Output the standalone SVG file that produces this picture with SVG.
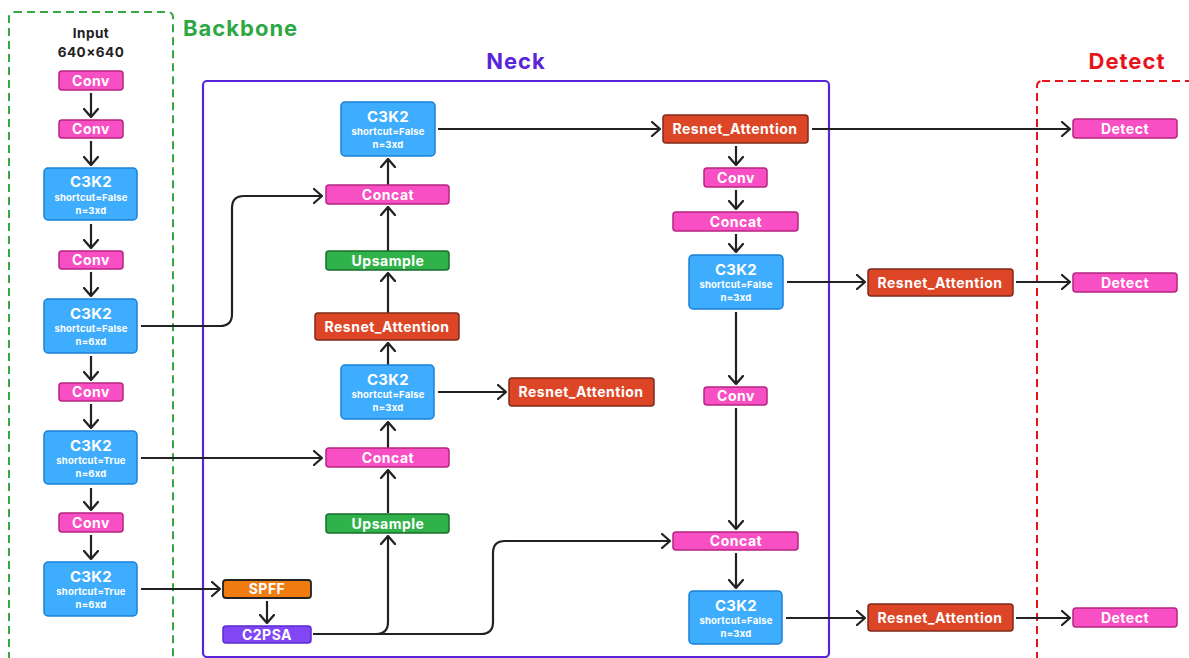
<svg xmlns="http://www.w3.org/2000/svg" width="1189" height="658" viewBox="0 0 1189 658">
<defs>
<marker id="arr" viewBox="0 0 10 16" markerWidth="10" markerHeight="16" refX="9" refY="8" orient="auto" markerUnits="userSpaceOnUse">
<path d="M1,1 L9,8 L1,15" fill="none" stroke="#222" stroke-width="2.3" stroke-linecap="round" stroke-linejoin="round"/>
</marker>
<style>
text{font-family:Inter,"Liberation Sans",Arial,sans-serif;font-weight:700;text-anchor:middle}
.lbl{fill:#fff;font-size:14px;letter-spacing:0.5px}
.t{fill:#fff;font-size:15px;letter-spacing:0.3px}
.s{fill:#fff;font-size:9.5px;letter-spacing:0.2px}
.pink{fill:#f94fc4;stroke:#b5247f;stroke-width:1.5}
.blue{fill:#3eadfd;stroke:#1a80d8;stroke-width:1.5}
.red{fill:#dc4627;stroke:#7d2b1b;stroke-width:1.5}
.green{fill:#2fb249;stroke:#186e2b;stroke-width:1.5}
.orange{fill:#f07c10;stroke:#222;stroke-width:1.8}
.purple{fill:#8147f5;stroke:#5b2bd0;stroke-width:1.5}
.c{fill:none;stroke:#222;stroke-width:2.2;marker-end:url(#arr)}
.title{font-size:22px;letter-spacing:1px}
.in{fill:#222;font-size:13.5px;letter-spacing:0.5px}
</style>
</defs>
<rect width="1189" height="658" fill="#fff"/>
<g id="frames">
<rect x="9" y="12" width="164" height="660" rx="5" fill="none" stroke="#35a844" stroke-width="2" stroke-dasharray="8 5"/>
<text x="183" y="36" class="title" fill="#2ea844" style="text-anchor:start">Backbone</text>
<rect x="203" y="81" width="626" height="576" rx="4" fill="none" stroke="#5a24d8" stroke-width="2.2"/>
<text x="516" y="69" class="title" fill="#5a24d8">Neck</text>
<rect x="1037" y="81" width="170" height="600" rx="5" fill="none" stroke="#e8141c" stroke-width="2" stroke-dasharray="8 5"/>
<text x="1127" y="69" class="title" fill="#e8141c">Detect</text>
<text x="91" y="38" class="in">Input</text>
<text x="91" y="57" class="in">640×640</text>
</g>
<g id="connectors">
<path class="c" d="M91,93 V117"/>
<path class="c" d="M91,141 V165"/>
<path class="c" d="M91,224 V248"/>
<path class="c" d="M91,272 V296"/>
<path class="c" d="M91,356 V380"/>
<path class="c" d="M91,404 V428"/>
<path class="c" d="M91,488 V510"/>
<path class="c" d="M91,535 V559"/>
<path class="c" d="M141,326 H220 Q232,326 232,314 V208 Q232,196 244,196 H322"/>
<path class="c" d="M141,458 H322"/>
<path class="c" d="M141,589 H220"/>
<path class="c" d="M267,601 V623"/>
<path class="c" d="M313,634 H376 Q388,634 388,622 V536"/>
<path class="c" d="M376,634 H481 Q493,634 493,622 V553 Q493,541 505,541 H670"/>
<path class="c" d="M388,513 V470"/>
<path class="c" d="M388,448 V422"/>
<path class="c" d="M438,392 H506"/>
<path class="c" d="M388,365 V343"/>
<path class="c" d="M388,313 V273"/>
<path class="c" d="M388,251 V207"/>
<path class="c" d="M388,185 V159"/>
<path class="c" d="M438,129 H660"/>
<path class="c" d="M812,129 H1070"/>
<path class="c" d="M736,146 V165"/>
<path class="c" d="M736,190 V209"/>
<path class="c" d="M736,234 V252"/>
<path class="c" d="M787,282 H865"/>
<path class="c" d="M1016,282 H1070"/>
<path class="c" d="M736,312 V384"/>
<path class="c" d="M736,408 V529"/>
<path class="c" d="M736,553 V588"/>
<path class="c" d="M786,618 H865"/>
<path class="c" d="M1016,618 H1070"/>
</g>
<g id="bb_conv1"><rect class="pink" x="59" y="71" width="64" height="19" rx="3"/><text class="lbl" x="91" y="85.5">Conv</text></g>
<g id="bb_conv2"><rect class="pink" x="59" y="120" width="64" height="18" rx="3"/><text class="lbl" x="91" y="134">Conv</text></g>
<g id="bb_c3k2_1"><rect class="blue" x="44" y="168" width="93" height="52" rx="4"/><text class="t" x="91" y="187">C3K2</text><text class="s" x="91" y="201">shortcut=False</text><text class="s" x="91" y="214">n=3xd</text></g>
<g id="bb_conv3"><rect class="pink" x="59" y="251" width="64" height="18" rx="3"/><text class="lbl" x="91" y="265">Conv</text></g>
<g id="bb_c3k2_2"><rect class="blue" x="44" y="299" width="93" height="54" rx="4"/><text class="t" x="91" y="319">C3K2</text><text class="s" x="91" y="332">shortcut=False</text><text class="s" x="91" y="345">n=6xd</text></g>
<g id="bb_conv4"><rect class="pink" x="59" y="383" width="64" height="18" rx="3"/><text class="lbl" x="91" y="397">Conv</text></g>
<g id="bb_c3k2_3"><rect class="blue" x="44" y="431" width="93" height="53" rx="4"/><text class="t" x="91" y="451">C3K2</text><text class="s" x="91" y="464">shortcut=True</text><text class="s" x="91" y="477">n=6xd</text></g>
<g id="bb_conv5"><rect class="pink" x="59" y="513" width="64" height="19" rx="3"/><text class="lbl" x="91" y="527.5">Conv</text></g>
<g id="bb_c3k2_4"><rect class="blue" x="44" y="562" width="93" height="54" rx="4"/><text class="t" x="91" y="582">C3K2</text><text class="s" x="91" y="595">shortcut=True</text><text class="s" x="91" y="608">n=6xd</text></g>
<g id="spff"><rect class="orange" x="223" y="580" width="88" height="18" rx="3"/><text class="lbl" x="267" y="594">SPFF</text></g>
<g id="c2psa"><rect class="purple" x="223" y="626" width="88" height="17" rx="3"/><text class="lbl" x="267" y="639.5">C2PSA</text></g>
<g id="nk_upsample2"><rect class="green" x="326" y="514" width="123" height="19" rx="3"/><text class="lbl" x="388" y="528.5">Upsample</text></g>
<g id="nk_concat2"><rect class="pink" x="326" y="448" width="123" height="19" rx="3"/><text class="lbl" x="388" y="462.5">Concat</text></g>
<g id="nk_c3k2_2"><rect class="blue" x="341" y="365" width="93" height="54" rx="4"/><text class="t" x="388" y="385">C3K2</text><text class="s" x="388" y="398">shortcut=False</text><text class="s" x="388" y="411">n=3xd</text></g>
<g id="nk_ra_mid"><rect class="red" x="509" y="378" width="145" height="28" rx="3"/><text class="lbl" x="581" y="397">Resnet_Attention</text></g>
<g id="nk_ra_center"><rect class="red" x="315" y="313" width="144" height="27" rx="3"/><text class="lbl" x="387" y="331.5">Resnet_Attention</text></g>
<g id="nk_upsample1"><rect class="green" x="326" y="251" width="123" height="19" rx="3"/><text class="lbl" x="388" y="265.5">Upsample</text></g>
<g id="nk_concat1"><rect class="pink" x="326" y="185" width="123" height="19" rx="3"/><text class="lbl" x="388" y="199.5">Concat</text></g>
<g id="nk_c3k2_1"><rect class="blue" x="341" y="102" width="94" height="54" rx="4"/><text class="t" x="388" y="122">C3K2</text><text class="s" x="388" y="135">shortcut=False</text><text class="s" x="388" y="148">n=3xd</text></g>
<g id="nk_ra_top"><rect class="red" x="663" y="115" width="145" height="28" rx="3"/><text class="lbl" x="735" y="134">Resnet_Attention</text></g>
<g id="nk_conv1"><rect class="pink" x="704" y="168" width="63" height="19" rx="3"/><text class="lbl" x="736" y="182.5">Conv</text></g>
<g id="nk_concat3"><rect class="pink" x="673" y="212" width="125" height="19" rx="3"/><text class="lbl" x="736" y="226.5">Concat</text></g>
<g id="nk_c3k2_3"><rect class="blue" x="689" y="255" width="94" height="54" rx="4"/><text class="t" x="736" y="275">C3K2</text><text class="s" x="736" y="288">shortcut=False</text><text class="s" x="736" y="301">n=3xd</text></g>
<g id="ra_mid"><rect class="red" x="868" y="269" width="145" height="27" rx="3"/><text class="lbl" x="940" y="287.5">Resnet_Attention</text></g>
<g id="nk_conv2"><rect class="pink" x="704" y="387" width="63" height="18" rx="3"/><text class="lbl" x="736" y="401">Conv</text></g>
<g id="nk_concat4"><rect class="pink" x="673" y="532" width="125" height="18" rx="3"/><text class="lbl" x="736" y="546">Concat</text></g>
<g id="nk_c3k2_4"><rect class="blue" x="689" y="591" width="93" height="53" rx="4"/><text class="t" x="736" y="611">C3K2</text><text class="s" x="736" y="624">shortcut=False</text><text class="s" x="736" y="637">n=3xd</text></g>
<g id="ra_bottom"><rect class="red" x="868" y="604" width="145" height="27" rx="3"/><text class="lbl" x="940" y="622.5">Resnet_Attention</text></g>
<g id="detect1"><rect class="pink" x="1073" y="119" width="104" height="19" rx="3"/><text class="lbl" x="1125" y="133.5">Detect</text></g>
<g id="detect2"><rect class="pink" x="1073" y="273" width="104" height="19" rx="3"/><text class="lbl" x="1125" y="287.5">Detect</text></g>
<g id="detect3"><rect class="pink" x="1073" y="608" width="104" height="19" rx="3"/><text class="lbl" x="1125" y="622.5">Detect</text></g>
</svg>
